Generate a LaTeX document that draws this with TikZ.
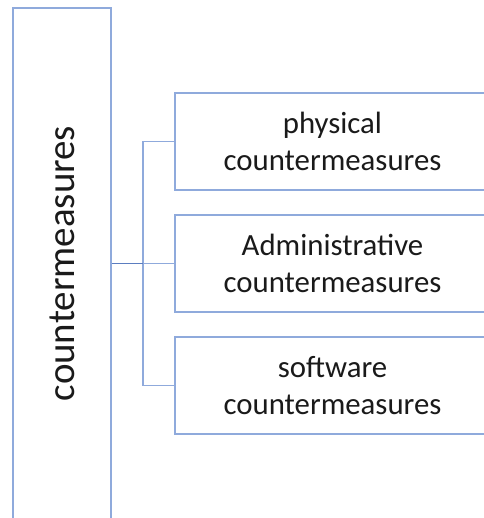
\documentclass[tikz,border=0pt]{standalone}
\usepackage{fontspec}
\setmainfont{Carlito}
\definecolor{boxline}{HTML}{8FAADC}
\definecolor{darkline}{HTML}{5B7DC0}
\definecolor{txt}{HTML}{1A1A1A}
\begin{document}
\begin{tikzpicture}[x=0.75pt,y=-0.75pt,
  boxstyle/.style={draw=boxline,line width=1.1pt,fill=white,inner sep=0pt},
  linkline/.style={draw=boxline,line width=1.1pt},
  smalltxt/.style={text=txt,font=\fontsize{23.1}{27.7}\selectfont,align=center}]
\useasboundingbox (0,0) rectangle (484,518);
\begin{scope}
\clip (0,0) rectangle (484,518);
% left tall box
\node[boxstyle,minimum width=73.5pt,minimum height=383.3pt] (L) at (62,263.5) {};
\node[text=txt,font=\fontsize{29.2}{35}\selectfont,rotate=90] (Lt) at (L.center) {countermeasures};
% right boxes
\node[boxstyle,minimum width=236.3pt,minimum height=72.8pt] (B1) at (332.5,141.5) {};
\node[boxstyle,minimum width=236.3pt,minimum height=72.8pt] (B2) at (332.5,263.5) {};
\node[boxstyle,minimum width=236.3pt,minimum height=72.8pt] (B3) at (332.5,385.5) {};
\node[smalltxt] (T1) at (B1.center) {physical\\countermeasures};
\node[smalltxt] (T2) at (B2.center) {Administrative\\countermeasures};
\node[smalltxt] (T3) at (B3.center) {software\\countermeasures};
\coordinate (J) at (143,263.5);
\draw[linkline] (B1.west) -- (B1.west -| J) -- (B3.west -| J) -- (B3.west);
\draw[linkline] (J) -- (B2.west);
\draw[line width=1.1pt,draw=darkline] (B2.west -| L.east) -- (J);
\end{scope}
\end{tikzpicture}
\end{document}
